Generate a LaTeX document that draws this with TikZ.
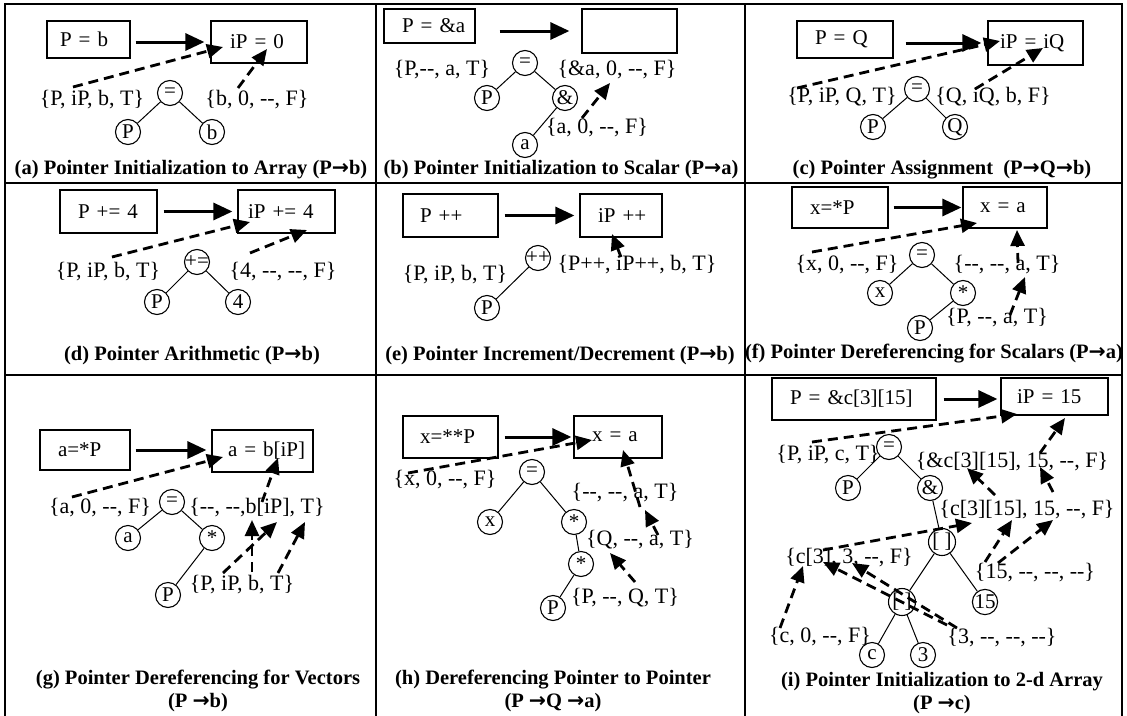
\documentclass[tikz,border=0pt]{standalone}
\usepackage{fontspec}
\setmainfont{Liberation Serif}
\newfontfamily\arrowfont{DejaVu Sans}
\usetikzlibrary{arrows.meta}
\newcommand\labfont{\fontsize{22}{24}\selectfont}
\newcommand\boxfont{\fontsize{21}{24}\selectfont}
\newcommand\capfont{\fontsize{20.5}{23}\selectfont\bfseries}
\newcommand\dd{-{}-}
\newcommand\ra{{\arrowfont\bfseries →}}
\begin{document}
\begin{tikzpicture}[x=1pt,y=-1pt,
  frame/.style={line width=2pt},
  box/.style={draw, line width=1.2pt, align=left, inner ysep=0pt, font=\boxfont},
  op/.style={circle, draw, line width=1.1pt, minimum size=25pt, inner sep=0pt, font=\boxfont},
  tightop/.style={op, inner sep=-3pt},
  lab/.style={inner sep=0pt, font=\labfont},
  caption/.style={inner sep=0pt, font=\capfont, align=center},
  tree/.style={line width=1pt},
  flow/.style={-{Triangle[length=19pt,width=17pt]}, line width=3pt},
  dep/.style={-{Triangle[length=16pt,width=14pt]}, line width=2.8pt, dash pattern=on 10pt off 6pt}]
\useasboundingbox (0,0) rectangle (1127,715);

% table rules
\draw[frame] (5,716) -- (5,4) -- (1122,4) -- (1122,716);
\draw[frame] (376,4) -- (376,716);
\draw[frame] (745,4) -- (745,716);
\draw[frame] (5,183) -- (1122,183);
\draw[frame] (5,375) -- (1122,375);

% ---------- (a) ----------
\node[box, text width=57pt, inner xsep=13pt, minimum height=37pt] (a-src) at (88.5,39.5) {\mbox{P = b}};
\node[box, text width=58pt, inner xsep=19pt, minimum height=42pt] (a-dst) at (259,42) {\mbox{iP = 0}};
\node[op] (a-eq) at (170,93) {=};
\node[op] (a-P) at (128,132) {P};
\node[op] (a-b) at (212,132) {b};
\node[lab] (a-l1) at (92,100) {\{P, iP, b, T\}};
\node[lab] (a-l2) at (257,100) {\{b, 0, \dd, F\}};
\node[caption] (a-cap) at (191,170) {(a) Pointer Initialization to Array (P\ra b)};
\draw[tree] (a-eq) -- (a-P);
\draw[tree] (a-eq) -- (a-b);
\draw[flow, shorten <=5pt, shorten >=6pt] (a-src.east |- a-dst.west) -- (a-dst.west);
\coordinate (a-d1s) at (73,87);  \coordinate (a-d1e) at (223,47);
\coordinate (a-d2s) at (238,88); \coordinate (a-d2e) at (267,49);
\draw[dep] (a-d1s) -- (a-d1e);
\draw[dep] (a-d2s) -- (a-d2e);

% ---------- (b) ----------
\node[box, text width=55pt, inner xsep=18pt, minimum height=34pt] (b-src) at (429.5,26) {\mbox{P = \&a}};
\node[box, text width=61pt, inner xsep=17pt, minimum height=44pt] (b-dst) at (629.5,31) {};
\node[op] (b-eq) at (525,63) {=};
\node[op] (b-P) at (487,98) {P};
\node[op] (b-amp) at (565,98) {\&};
\node[op] (b-a) at (525,145) {a};
\node[lab] (b-l1) at (442,70) {\{P,\dd, a, T\}};
\node[lab] (b-l2) at (617,70) {\{\&a, 0, \dd, F\}};
\node[lab] (b-l3) at (597,128) {\{a, 0, \dd, F\}};
\node[caption] (b-cap) at (561,170) {(b) Pointer Initialization to Scalar (P\ra a)};
\draw[tree] (b-eq) -- (b-P);
\draw[tree] (b-eq) -- (b-amp);
\draw[tree] (b-amp) -- (b-a);
\draw[flow, shorten <=24pt, shorten >=12pt] (b-src.east |- b-dst.west) -- (b-dst.west);
\coordinate (b-d1s) at (582,118); \coordinate (b-d1e) at (610,83);
\draw[dep] (b-d1s) -- (b-d1e);

% ---------- (c) ----------
\node[box, text width=60pt, inner xsep=18pt, minimum height=37pt] (c-src) at (845,39.5) {\mbox{P = Q}};
\node[box, text width=71pt, inner xsep=12pt, minimum height=44pt] (c-dst) at (1035.5,43) {\mbox{iP = iQ}};
\node[op] (c-eq) at (917,89) {=};
\node[op] (c-P) at (873,127) {P};
\node[op] (c-Q) at (955,127) {Q};
\node[lab] (c-l1) at (842,97) {\{P, iP, Q, T\}};
\node[lab] (c-l2) at (993,97) {\{Q, iQ, b, F\}};
\node[caption] (c-cap) at (942,170) {(c) Pointer Assignment\ \ (P\ra Q\ra b)};
\draw[tree] (c-eq) -- (c-P);
\draw[tree] (c-eq) -- (c-Q);
\draw[flow, shorten <=12pt, shorten >=6pt] (c-src.east |- c-dst.west) -- (c-dst.west);
\coordinate (c-d1s) at (797,88);  \coordinate (c-d1e) at (1000,41);
\coordinate (c-d2s) at (975,89);  \coordinate (c-d2e) at (1043,48);
\draw[dep] (c-d1s) -- (c-d1e);
\draw[dep] (c-d2s) -- (c-d2e);

% ---------- (d) ----------
\node[box, text width=61pt, inner xsep=18pt, minimum height=43pt] (d-src) at (108.5,211.5) {\mbox{P += 4}};
\node[box, text width=77pt, inner xsep=10pt, minimum height=43pt] (d-dst) at (286.5,211.5) {\mbox{iP += 4}};
\node[tightop] (d-op) at (197,262) {+=};
\node[op] (d-P) at (157,302) {P};
\node[op] (d-4) at (238,302) {4};
\node[lab] (d-l1) at (108,272) {\{P, iP, b, T\}};
\node[lab] (d-l2) at (283,272) {\{4, \dd, \dd, F\}};
\node[caption] (d-cap) at (192,356) {(d) Pointer Arithmetic (P\ra b)};
\draw[tree] (d-op) -- (d-P);
\draw[tree] (d-op) -- (d-4);
\draw[flow, shorten <=6pt, shorten >=5pt] (d-src.east) -- (d-dst.west);
\coordinate (d-d1s) at (112,257); \coordinate (d-d1e) at (250,222);
\coordinate (d-d2s) at (250,253); \coordinate (d-d2e) at (307,230);
\draw[dep] (d-d1s) -- (d-d1e);
\draw[dep] (d-d2s) -- (d-d2e);

% ---------- (e) ----------
\node[box, text width=61pt, inner xsep=17pt, minimum height=43pt] (e-src) at (450.5,215.5) {\mbox{P ++}};
\node[box, text width=46pt, inner xsep=18pt, minimum height=43pt] (e-dst) at (621,215.5) {\mbox{iP ++}};
\node[tightop] (e-op) at (538,258) {++};
\node[op] (e-P) at (487,308) {P};
\node[lab] (e-l1) at (455,275) {\{P, iP, b, T\}};
\node[lab] (e-l2) at (637,265) {\{P++, iP++, b, T\}};
\node[caption] (e-cap) at (560,356) {(e) Pointer Increment/Decrement (P\ra b)};
\draw[tree] (e-op) -- (e-P);
\draw[flow, shorten <=6pt, shorten >=5pt] (e-src.east) -- (e-dst.west);
\coordinate (e-d1s) at (621,257); \coordinate (e-d1e) at (612,234);
\draw[dep] (e-d1s) -- (e-d1e);

% ---------- (f) ----------
\node[box, text width=60pt, inner xsep=18pt, minimum height=41pt] (f-src) at (840,207.5) {\mbox{x=*P}};
\node[box, text width=50pt, inner xsep=17pt, minimum height=41pt] (f-dst) at (1005,207.5) {\mbox{x = a}};
\node[op] (f-eq) at (922,255) {=};
\node[op] (f-x) at (880,293) {x};
\node[op] (f-st) at (963,293) {*};
\node[op] (f-P) at (920,328) {P};
\node[lab] (f-l1) at (847,265) {\{x, 0, \dd, F\}};
\node[lab] (f-l2) at (1007,265) {\{\dd, \dd, a, T\}};
\node[lab] (f-l3) at (997,318) {\{P, \dd, a, T\}};
\node[caption] (f-cap) at (934,354) {(f) Pointer Dereferencing for Scalars (P\ra a)};
\draw[tree] (f-eq) -- (f-x);
\draw[tree] (f-eq) -- (f-st);
\draw[tree] (f-st) -- (f-P);
\draw[flow, shorten <=5pt, shorten >=1pt] (f-src.east) -- (f-dst.west);
\coordinate (f-d1s) at (812,252);  \coordinate (f-d1e) at (977,223);
\coordinate (f-d2s) at (1010,315); \coordinate (f-d2e) at (1025,277);
\coordinate (f-d3s) at (1018,263); \coordinate (f-d3e) at (1017,230);
\draw[dep] (f-d1s) -- (f-d1e);
\draw[dep] (f-d2s) -- (f-d2e);
\draw[dep] (f-d3s) -- (f-d3e);

% ---------- (g) ----------
\node[box, text width=54pt, inner xsep=18pt, minimum height=40pt] (g-src) at (85,450) {\mbox{a=*P}};
\node[box, text width=69pt, inner xsep=16pt, minimum height=42pt] (g-dst) at (262.5,451) {\mbox{a = b[iP]}};
\node[op] (g-eq) at (172,502) {=};
\node[op] (g-a) at (128,538) {a};
\node[op] (g-st) at (212,538) {*};
\node[op] (g-P) at (168,595) {P};
\node[lab] (g-l1) at (100,508) {\{a, 0, \dd, F\}};
\node[lab] (g-l2) at (257,508) {\{\dd, \dd,b[iP], T\}};
\node[lab] (g-l3) at (242,585) {\{P, iP, b, T\}};
\node[caption] (g-cap) at (198,691) {(g) Pointer Dereferencing for Vectors\\(P \ra b)};
\draw[tree] (g-eq) -- (g-a);
\draw[tree] (g-eq) -- (g-st);
\draw[tree] (g-st) -- (g-P);
\draw[flow, shorten <=5pt, shorten >=5pt] (g-src.east) -- (g-src.east -| g-dst.west);
\coordinate (g-d1s) at (72,497);  \coordinate (g-d1e) at (223,457);
\coordinate (g-d2s) at (262,502); \coordinate (g-d2e) at (278,458);
\coordinate (g-d3s) at (223,573); \coordinate (g-d3e) at (277,522);
\coordinate (g-d4s) at (252,572); \coordinate (g-d4e) at (252,520);
\coordinate (g-d5s) at (278,573); \coordinate (g-d5e) at (305,522);
\draw[dep] (g-d1s) -- (g-d1e);
\draw[dep] (g-d2s) -- (g-d2e);
\draw[dep] (g-d3s) -- (g-d3e);
\draw[dep] (g-d4s) -- (g-d4e);
\draw[dep] (g-d5s) -- (g-d5e);

% ---------- (h) ----------
\node[box, text width=61pt, inner xsep=17pt, minimum height=42pt] (h-src) at (450.5,437) {\mbox{x=**P}};
\node[box, text width=52pt, inner xsep=18pt, minimum height=42pt] (h-dst) at (618,437) {\mbox{x = a}};
\node[op] (h-eq) at (532,472) {=};
\node[op] (h-x) at (490,522) {x};
\node[op] (h-st1) at (574,522) {*};
\node[op] (h-st2) at (581,564) {*};
\node[op] (h-P) at (553,608) {P};
\node[lab] (h-l1) at (445,480) {\{x, 0, \dd, F\}};
\node[lab] (h-l2) at (625,493) {\{\dd, \dd, a, T\}};
\node[lab] (h-l3) at (640,540) {\{Q, \dd, a, T\}};
\node[lab] (h-l4) at (625,598) {\{P, \dd, Q, T\}};
\node[caption] (h-cap) at (553,691) {(h) Dereferencing Pointer to Pointer\\(P \ra Q \ra a)};
\draw[tree] (h-eq) -- (h-x);
\draw[tree] (h-eq) -- (h-st1);
\draw[tree] (h-st1) -- (h-st2);
\draw[tree] (h-st2) -- (h-P);
\draw[flow, shorten <=6pt, shorten >=2pt] (h-src.east) -- (h-dst.west);
\coordinate (h-d1s) at (408,473); \coordinate (h-d1e) at (592,440);
\coordinate (h-d2s) at (640,507); \coordinate (h-d2e) at (623,450);
\coordinate (h-d3s) at (658,535); \coordinate (h-d3e) at (645,510);
\coordinate (h-d4s) at (635,582); \coordinate (h-d4e) at (610,553);
\draw[dep] (h-d1s) -- (h-d1e);
\draw[dep] (h-d2s) -- (h-d2e);
\draw[dep] (h-d3s) -- (h-d3e);
\draw[dep] (h-d4s) -- (h-d4e);

% ---------- (i) ----------
\node[box, text width=128pt, inner xsep=18pt, minimum height=42pt] (i-src) at (854,399) {\mbox{P = \&c[3][15]}};
\node[box, text width=75pt, inner xsep=16pt, minimum height=37pt] (i-dst) at (1054.5,396.5) {\mbox{iP = 15}};
\node[op] (i-eq) at (889,447) {=};
\node[op] (i-P) at (848,488) {P};
\node[op] (i-amp) at (930,488) {\&};
\node[op, minimum size=27pt] (i-ix1) at (942,542) {[ ]};
\node[op, minimum size=27pt] (i-ix2) at (902,602) {[ ]};
\node[op] (i-15) at (985,602) {15};
\node[op] (i-c) at (872,655) {c};
\node[op] (i-3) at (923,655) {3};
\node[lab] (i-l1) at (828,455) {\{P, iP, c, T\}};
\node[lab] (i-l2) at (1012,462) {\{\&c[3][15], 15, \dd, F\}};
\node[lab] (i-l3) at (1027,510) {\{c[3][15], 15, \dd, F\}};
\node[lab] (i-l4) at (849,558) {\{c[3], 3, \dd, F\}};
\node[lab] (i-l5) at (1035,573) {\{15, \dd, \dd, \dd\}};
\node[lab] (i-l6) at (820,637) {\{c, 0, \dd, F\}};
\node[lab] (i-l7) at (1002,638) {\{3, \dd, \dd, \dd\}};
\node[caption] (i-cap) at (942,693) {(i) Pointer Initialization to 2-d Array\\(P \ra c)};
\draw[tree] (i-eq) -- (i-P);
\draw[tree] (i-eq) -- (i-amp);
\draw[tree] (i-amp) -- (i-ix1);
\draw[tree] (i-ix1) -- (i-ix2);
\draw[tree] (i-ix1) -- (i-15);
\draw[tree] (i-ix2) -- (i-c);
\draw[tree] (i-ix2) -- (i-3);
\draw[flow, shorten <=7pt, shorten >=3pt] (i-src.east) -- (i-src.east -| i-dst.west);
\coordinate (i-d1s) at (812,442);  \coordinate (i-d1e) at (1017,414);
\coordinate (i-d2s) at (1040,453); \coordinate (i-d2e) at (1065,418);
\coordinate (i-d3s) at (995,495);  \coordinate (i-d3e) at (967,468);
\coordinate (i-d4s) at (1053,492); \coordinate (i-d4e) at (1040,467);
\coordinate (i-d5s) at (823,550);  \coordinate (i-d5e) at (972,523);
\coordinate (i-d6s) at (985,562);  \coordinate (i-d6e) at (1012,520);
\coordinate (i-d7s) at (998,563);  \coordinate (i-d7e) at (1053,520);
\coordinate (i-d8s) at (780,628);  \coordinate (i-d8e) at (803,566);
\coordinate (i-d9s) at (957,628);  \coordinate (i-d9e) at (852,563);
\coordinate (i-d10s) at (947,625); \coordinate (i-d10e) at (823,562);
\foreach \k in {1,...,10} \draw[dep] (i-d\k s) -- (i-d\k e);
\end{tikzpicture}
\end{document}
